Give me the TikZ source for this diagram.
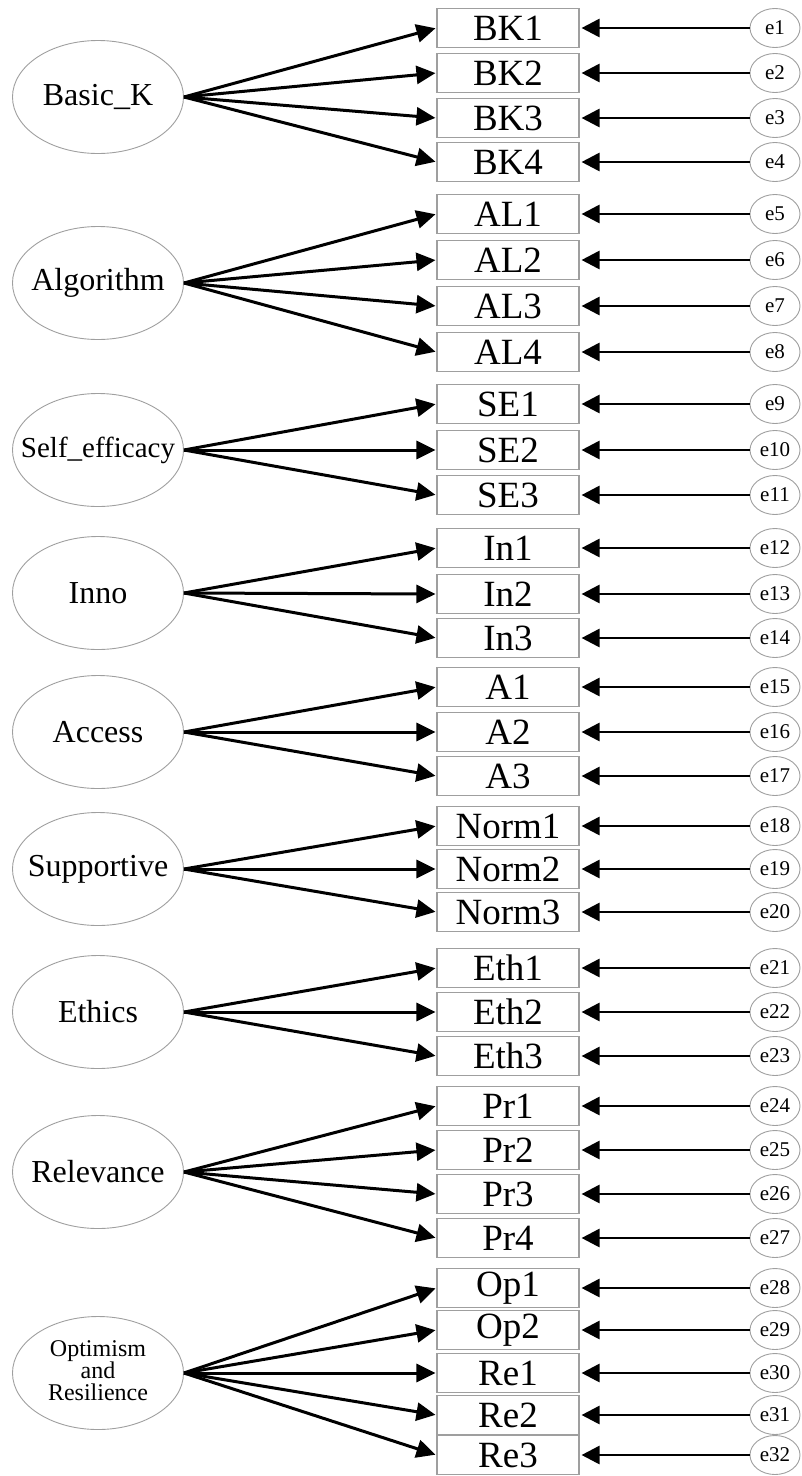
\documentclass[tikz,border=0pt]{standalone}
\usepackage{fontspec}
\setmainfont{Liberation Serif}
\usetikzlibrary{shapes.geometric,arrows.meta}
\tikzset{
  obs/.style={draw=gray!75, line width=1.1pt, minimum width=142pt, minimum height=39pt, inner sep=0pt,
    font=\fontsize{37}{37}\selectfont},
  latent/.style={ellipse, draw=gray!75, line width=0.9pt, minimum width=171pt, minimum height=113pt, inner sep=0pt,
    font=\fontsize{32}{32}\selectfont},
  err/.style={ellipse, draw=gray!75, line width=0.9pt, minimum width=50pt, minimum height=39pt, inner sep=0pt,
    font=\fontsize{21}{21}\selectfont},
  load/.style={line width=3pt, -{Triangle[length=19pt,width=18pt]}, shorten >=1pt},
  errarrow/.style={line width=2.8pt, -{Triangle[length=18pt,width=18pt]}, shorten >=2pt},
}
\newcommand{\fixw}[1]{\makebox[0pt][c]{#1}}
\begin{document}
\begin{tikzpicture}[x=1pt,y=-1pt]
\useasboundingbox (0,0) rectangle (801,1476);
% observed variables and error terms
\foreach \n/\y/\e in {BK1/28/e1,BK2/73/e2,BK3/118/e3,BK4/162/e4,
  AL1/214/e5,AL2/260/e6,AL3/306/e7,AL4/352/e8,
  SE1/404/e9,SE2/450/e10,SE3/495/e11,
  In1/548/e12,In2/594/e13,In3/638/e14,
  A1/687/e15,A2/732/e16,A3/776/e17,
  Norm1/826/e18,Norm2/869/e19,Norm3/912/e20,
  Eth1/968/e21,Eth2/1012/e22,Eth3/1056/e23,
  Pr1/1106/e24,Pr2/1150/e25,Pr3/1194/e26,Pr4/1238/e27,
  Op1/1288/e28,Op2/1330/e29,Re1/1373/e30,Re2/1415/e31,Re3/1455/e32}{
  \node[obs] (\n) at (508,\y) {\n};
  \node[err] (\e) at (775,\y) {\e};
  \draw[errarrow] (\e) -- (\n);
}
% latent variables
\node[latent] (BasicK) at (98,97) {\fixw{Basic\_K}};
\node[latent] (Algorithm) at (98,283) {\fixw{Algorithm}};
\node[latent, font=\fontsize{29}{29}\selectfont] (SelfEff) at (98,450) {\fixw{Self\_efficacy}};
\node[latent] (Inno) at (98,593) {\fixw{Inno}};
\node[latent] (Access) at (98,732) {\fixw{Access}};
\node[latent] (Supportive) at (98,869) {\fixw{Supportive}};
\node[latent] (Ethics) at (98,1012) {\fixw{Ethics}};
\node[latent] (Relevance) at (98,1172) {\fixw{Relevance}};
\node[latent, font=\fontsize{24}{25}\selectfont] (Optimism) at (98,1373)
  {\fixw{\begin{tabular}{@{}c@{}}Optimism\\[-3pt]and\\[-3pt]Resilience\end{tabular}}};
% loadings
\foreach \l/\list in {BasicK/{BK1,BK2,BK3,BK4},Algorithm/{AL1,AL2,AL3,AL4},
  SelfEff/{SE1,SE2,SE3},Inno/{In1,In2,In3},Access/{A1,A2,A3},
  Supportive/{Norm1,Norm2,Norm3},Ethics/{Eth1,Eth2,Eth3},
  Relevance/{Pr1,Pr2,Pr3,Pr4},Optimism/{Op1,Op2,Re1,Re2,Re3}}{
  \foreach \o in \list {
    \draw[load] (\l.east) -- (\o.west);
  }
}
\end{tikzpicture}
\end{document}
